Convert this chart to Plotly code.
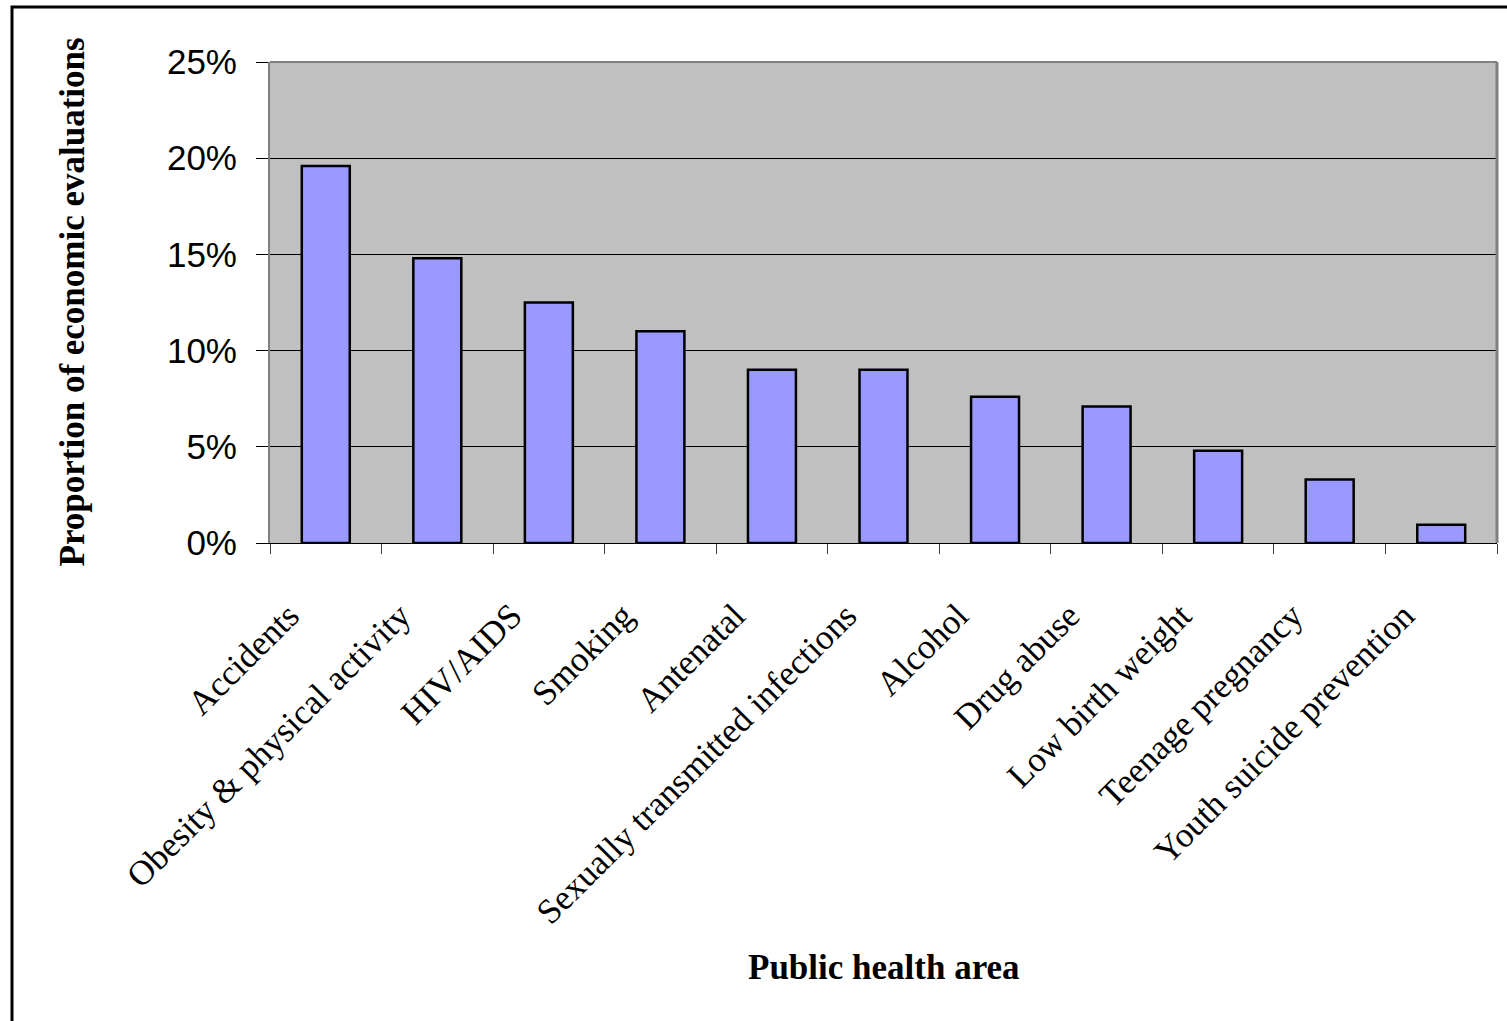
import plotly.graph_objects as go

categories = [
    "Accidents",
    "Obesity & physical activity",
    "HIV/AIDS",
    "Smoking",
    "Antenatal",
    "Sexually transmitted infections",
    "Alcohol",
    "Drug abuse",
    "Low birth weight",
    "Teenage pregnancy",
    "Youth suicide prevention",
]
proportions = [0.196, 0.148, 0.125, 0.110, 0.090, 0.090, 0.076, 0.071, 0.048, 0.033, 0.0095]
y_ticks = [0, 0.05, 0.10, 0.15, 0.20, 0.25]

fig = go.Figure(
    go.Bar(
        x=categories,
        y=proportions,
        width=0.43,
        marker=dict(color="#9999FF", line=dict(color="black", width=2.5)),
    )
)

L, R, T, B = 270, 10, 62, 478
W, H = 1507, 1021
pw, ph = W - L - R, H - T - B

# trailing non-breaking spaces pull the rotated labels back from the tick (layout only)
pad = "\u00a0" * 6
tick_text = [c + pad for c in categories]

fig.update_layout(
    width=W,
    height=H,
    margin=dict(l=L, r=R, t=T, b=B, pad=0),
    paper_bgcolor="white",
    plot_bgcolor="#C0C0C0",
    showlegend=False,
    xaxis=dict(
        tickangle=-45,
        tickmode="array",
        tickvals=categories,
        ticktext=tick_text,
        tickfont=dict(family="Liberation Serif", size=35, color="black"),
        ticks="outside",
        tickson="boundaries",
        ticklen=10,
        tickcolor="#404040",
        ticklabelstandoff=0,
        showline=True,
        linecolor="black",
        linewidth=1,
        showgrid=False,
        automargin=False,
    ),
    yaxis=dict(
        range=[0, 0.25],
        tickvals=y_ticks,
        tickformat=".0%",
        tickfont=dict(family="Liberation Sans", size=35, color="black"),
        ticks="outside",
        ticklen=12,
        tickcolor="black",
        ticklabelstandoff=12,
        showline=True,
        linecolor="#808080",
        linewidth=2,
        showgrid=True,
        gridcolor="black",
        gridwidth=1,
        zeroline=False,
        automargin=False,
    ),
    shapes=[
        dict(type="line", xref="paper", yref="paper", x0=0, x1=1, y0=1, y1=1,
             line=dict(color="#808080", width=2)),
        dict(type="line", xref="paper", yref="paper", x0=1, x1=1, y0=0, y1=1,
             line=dict(color="#808080", width=3)),
        dict(type="rect", xref="paper", yref="paper",
             x0=(12 - L) / pw, x1=(W + 20 - L) / pw,
             y0=-(B + 20) / ph, y1=(H - B - 7) / ph,
             line=dict(color="black", width=3)),
    ],
)

fig.add_annotation(
    text="<b>Public health area</b>", xref="paper", yref="paper",
    x=0.5, y=-(967 - (H - B)) / ph, showarrow=False,
    font=dict(family="Liberation Serif", size=35, color="black"),
    xanchor="center", yanchor="middle",
)
fig.add_annotation(
    text="<b>Proportion of economic evaluations</b>", xref="paper", yref="paper",
    x=(72 - L) / pw, y=0.5, showarrow=False, textangle=-90,
    font=dict(family="Liberation Serif", size=35, color="black"),
    xanchor="center", yanchor="middle",
)

fig.write_html("out.html")
